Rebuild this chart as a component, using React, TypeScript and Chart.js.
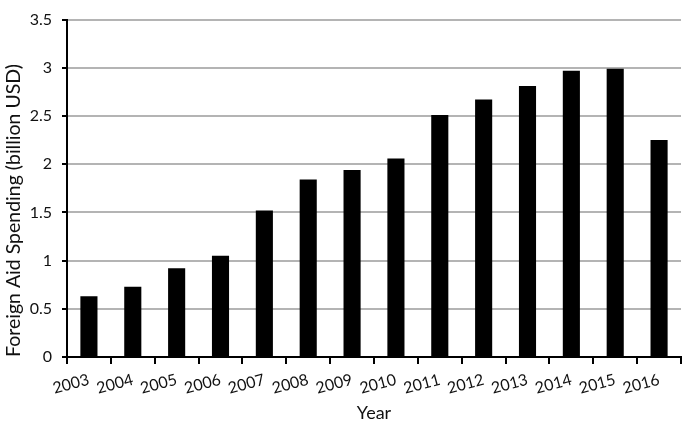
import { useEffect, useRef } from "react";
import { Chart, registerables } from "chart.js";

Chart.register(...registerables);

const years = ["2003", "2004", "2005", "2006", "2007", "2008", "2009", "2010", "2011", "2012", "2013", "2014", "2015", "2016"];
const spending = [0.63, 0.73, 0.92, 1.05, 1.52, 1.84, 1.94, 2.06, 2.51, 2.67, 2.81, 2.97, 2.99, 2.25];

const FONT = "Lato, 'Open Sans', sans-serif";

export default function App() {
  const canvasRef = useRef<HTMLCanvasElement | null>(null);

  useEffect(() => {
    document.body.style.margin = "0";
    if (!canvasRef.current) return;
    const chart = new Chart(canvasRef.current, {
      type: "bar",
      data: {
        labels: years,
        datasets: [
          {
            label: "Foreign Aid Spending",
            data: spending,
            backgroundColor: "#000000",
            barPercentage: 0.39,
            categoryPercentage: 1,
          },
        ],
      },
      options: {
        animation: false,
        responsive: false,
        devicePixelRatio: 1,
        layout: { autoPadding: false, padding: { top: 9, right: 4, left: 0, bottom: 0 } },
        plugins: {
          legend: { display: false },
          tooltip: { enabled: false },
        },
        scales: {
          x: {
            afterFit: (scale) => {
              scale.height = 67;
            },
            grid: {
              drawOnChartArea: false,
              drawTicks: true,
              tickLength: 7,
              color: "#000000",
              lineWidth: 2,
            },
            border: { color: "#000000", width: 2 },
            ticks: {
              minRotation: 15,
              maxRotation: 15,
              color: "#111111",
              padding: 6,
              font: { family: FONT, size: 16 },
            },
            title: {
              display: true,
              text: "Year",
              color: "#111111",
              font: { family: FONT, size: 18 },
              padding: 0,
            },
          },
          y: {
            min: 0,
            max: 3.5,
            afterFit: (scale) => {
              scale.width = 67;
            },
            ticks: {
              stepSize: 0.5,
              color: "#111111",
              padding: 10,
              font: { family: FONT, size: 16 },
              callback: (value) => String(Number(value)),
            },
            grid: {
              color: "#b4b4b4",
              lineWidth: 2,
              tickColor: "#000000",
              tickLength: 5,
            },
            border: { color: "#000000", width: 2 },
            title: {
              display: true,
              text: "Foreign Aid Spending (billion USD)",
              align: "start",
              color: "#111111",
              font: { family: FONT, size: 19.5 },
              padding: { top: 2, bottom: 0 },
            },
          },
        },
      },
    });
    return () => chart.destroy();
  }, []);

  return (
    <div style={{ width: 685, height: 424, background: "#ffffff" }}>
      <canvas ref={canvasRef} width={685} height={424} />
    </div>
  );
}
